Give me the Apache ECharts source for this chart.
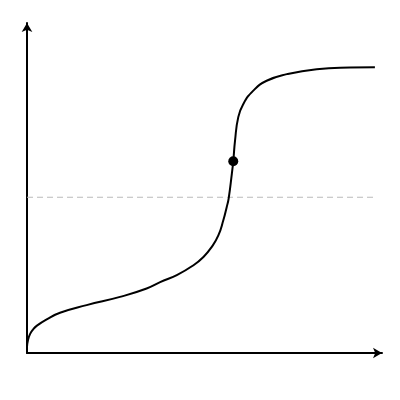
<!DOCTYPE html>
<html lang="en">
<head>
    <meta charset="UTF-8">
    <title>S curve</title>
    <script src="https://cdn.jsdelivr.net/npm/echarts@6/dist/echarts.min.js"></script>
</head>
<style>
    body { margin:0; padding:0; background:#fff; }
</style>
<body>

<div id="main" style="width: 400px;height: 400px;"></div>

<script>
    // curve (x, y in 0..100 units)
    var curveX = [0, 0.28, 0.85, 1.7, 2.8, 5.55, 9.3, 16.8, 26.2, 33.7, 37.5, 42.2, 46.9, 49.7, 52.0, 53.9, 55.3, 56.25, 56.8, 57.7, 58.1, 58.6, 59.5, 60.9, 63.75, 67.5, 73.2, 81.6, 91.0, 98.0];
    var curveY = [1.8, 3.9, 5.7, 7.1, 8.3, 10.2, 12.2, 14.5, 17.0, 19.55, 21.5, 23.6, 26.6, 29.1, 32.1, 35.65, 40.2, 44.2, 46.8, 54.3, 58.1, 64.35, 71.4, 75.4, 79.5, 82.5, 84.5, 86.0, 86.5, 86.6];
    // marked point on the steep part
    var markX = [58.1];
    var markY = [58.1];
    // dashed reference level
    var refLevel = 47.2;
    var refEndX = 98;

    var curveData = curveX.map(function (x, i) { return [x, curveY[i]]; });
    var markData = markX.map(function (x, i) { return [x, markY[i]]; });

    var myChart = echarts.init(document.getElementById('main'));

    var axisCommon = {
        type: 'value',
        min: 0,
        max: 100,
        axisLine: {
            show: true,
            symbol: ['none', 'arrow'],
            symbolSize: [8, 9],
            lineStyle: { color: '#000', width: 2 }
        },
        axisTick: { show: false },
        axisLabel: { show: false },
        splitLine: { show: false }
    };

    var option = {
        animation: false,
        grid: { left: 27, right: 18, top: 23, bottom: 47 },
        xAxis: axisCommon,
        yAxis: axisCommon,
        series: [{
            type: 'line',
            data: [[0, refLevel], [refEndX, refLevel]],
            symbol: 'none',
            lineStyle: { color: '#bbb', width: 1.2, type: [6, 4] },
            z: 1
        }, {
            type: 'line',
            data: curveData,
            smooth: 0.5,
            symbol: 'none',
            lineStyle: { color: '#000', width: 2 },
            z: 2
        }, {
            type: 'scatter',
            data: markData,
            symbolSize: 10,
            itemStyle: { color: '#000', opacity: 1 },
            z: 3
        }]
    };
    myChart.setOption(option);
</script>

</body>
</html>
